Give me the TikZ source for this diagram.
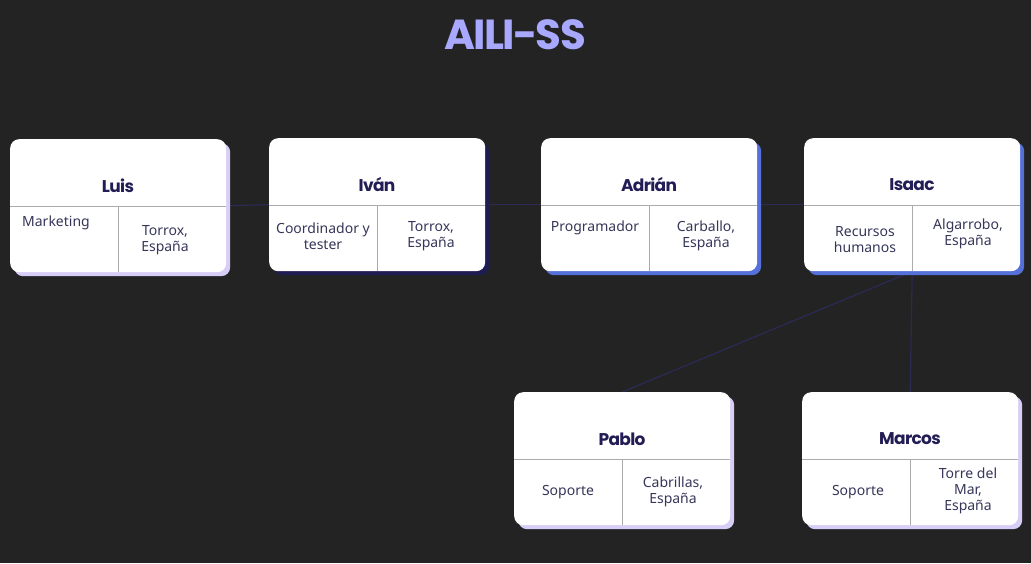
\documentclass[tikz,border=0pt]{standalone}
\usepackage{fontspec}
\setmainfont{Noto Sans}
\newfontfamily\pop{Poppins}
\newfontfamily\poptight{Poppins}[LetterSpace=-4]
\usetikzlibrary{calc}
\definecolor{bgc}{HTML}{232323}
\definecolor{titlec}{HTML}{A8A8FF}
\definecolor{namec}{HTML}{221D55}
\definecolor{bodyc}{HTML}{36365A}
\definecolor{lav}{HTML}{D8CDF6}
\definecolor{navy}{HTML}{1F1C52}
\definecolor{blu}{HTML}{5570D8}
\definecolor{connc}{HTML}{2A2A55}
\definecolor{gridc}{HTML}{ABABAB}
\pgfdeclarelayer{bglayer}
\pgfdeclarelayer{connlayer}
\pgfsetlayers{bglayer,connlayer,main}
\tikzset{
  x=1pt,y=-1pt,
  cardbox/.style={draw=none,fill=white,rounded corners=9pt,minimum width=216pt,minimum height=133pt,inner sep=0pt},
  cardshadow/.style={draw=none,rounded corners=9pt,minimum width=216pt,minimum height=133pt,inner sep=0pt},
  gridline/.style={draw=gridc,line width=1pt},
  conn/.style={draw=connc,line width=1.2pt},
  nametext/.style={font=\poptight\bfseries\fontsize{17}{18}\selectfont,text=namec,inner sep=0pt},
  bodytext/.style={font=\fontsize{14}{16}\selectfont,text=bodyc,align=center,inner sep=0pt},
}
\newcommand\mycard[4]{%
  \node[cardshadow,fill=#3,anchor=north west] at ($(#2)+(4,4)$) {};
  \node[cardbox,anchor=north west] (#1) at (#2) {};
  \draw[gridline] ($(#1.north west)+(0,67)$) -- ($(#1.north east)+(0,67)$);
  \draw[gridline] ($(#1.north west)+(108,67)$) -- ($(#1.south west)+(108,0)$);
  \node[nametext] (#1-name) at ($(#1.north west)+(108,47)$) {#4};
}
\begin{document}
\begin{tikzpicture}
\begin{pgfonlayer}{bglayer}
\fill[bgc] (0,0) rectangle (1031,563);
\end{pgfonlayer}
\useasboundingbox (0,0) rectangle (1031,563);

\node[font=\poptight\bfseries\fontsize{42}{44}\selectfont,text=titlec,inner sep=0pt] (title) at (515,35) {AILI-SS};

\mycard{luis}{10,139}{lav}{Luis}
\mycard{ivan}{269,138}{navy}{Iván}
\mycard{adrian}{541,138}{blu}{Adrián}
\mycard{isaac}{804,138}{blu}{Isaac}
\mycard{pablo}{514,392}{lav}{Pablo}
\mycard{marcos}{802,392}{lav}{Marcos}

\node[bodytext] (luis-role) at (56,223) {Marketing};
\node[bodytext] (luis-loc) at (165,240) {Torrox,\\España};
\node[bodytext] (ivan-role) at (323,236) {Coordinador y\\tester};
\node[bodytext] (ivan-loc) at (431,236) {Torrox,\\España};
\node[bodytext] (adrian-role) at (595,228) {Programador};
\node[bodytext] (adrian-loc) at (706,236) {Carballo,\\España};
\node[bodytext] (isaac-role) at (865,240) {Recursos\\humanos};
\node[bodytext] (isaac-loc) at (968,234) {Algarrobo,\\España};
\node[bodytext] (pablo-role) at (568,492) {Soporte};
\node[bodytext] (pablo-loc) at (673,492) {Cabrillas,\\España};
\node[bodytext] (marcos-role) at (858,492) {Soporte};
\node[bodytext] (marcos-loc) at (968,491) {Torre del\\Mar,\\España};

\begin{pgfonlayer}{connlayer}
\draw[conn] (luis.east) -- (ivan.west);
\draw[conn] (ivan.east) -- (adrian.west);
\draw[conn] (adrian.east) -- (isaac.west);
\draw[conn] (isaac.south) -- (pablo.north);
\draw[conn] (isaac.south) -- (marcos.north);
\end{pgfonlayer}
\end{tikzpicture}
\end{document}
